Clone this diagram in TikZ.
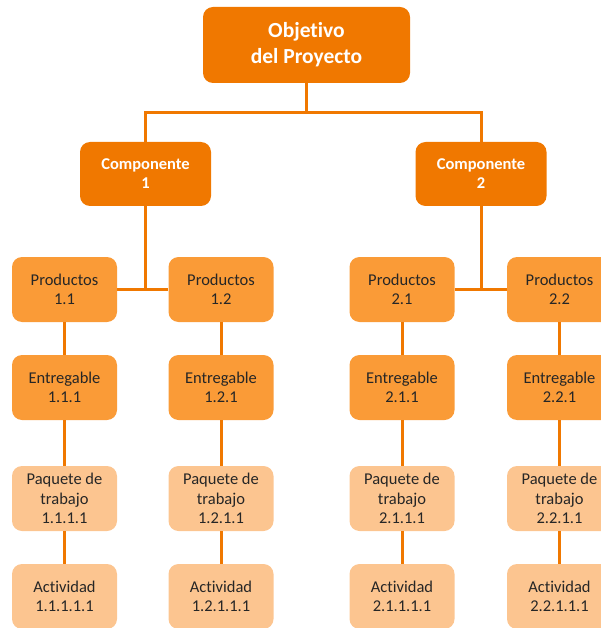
\documentclass[tikz,border=0pt]{standalone}
\usepackage{fontspec}
\setmainfont[Ligatures=NoCommon]{Carlito}
\definecolor{darkorg}{RGB}{240,120,0}
\definecolor{midorg}{RGB}{250,155,55}
\definecolor{lightorg}{RGB}{252,197,144}
\definecolor{txtgray}{RGB}{38,38,38}
\begin{document}
\begin{tikzpicture}[x=1pt,y=-1pt,
  box/.style={rectangle,rounded corners=10pt,inner sep=0pt,align=center,
    minimum width=105pt,minimum height=65pt,font=\fontsize{16.5}{19.4}\selectfont,text=txtgray},
  topbox/.style={box,fill=darkorg,text=white,minimum width=207pt,minimum height=76pt,
    font=\fontsize{21.5}{26}\selectfont\bfseries},
  compbox/.style={box,fill=darkorg,text=white,minimum width=131pt,minimum height=64pt,
    font=\fontsize{16.5}{19}\selectfont\bfseries},
  prodbox/.style={box,fill=midorg},
  workbox/.style={box,fill=lightorg},
  link/.style={draw=darkorg,line width=3pt}]
\useasboundingbox (0,0) rectangle (601,628);
\clip (0,0) rectangle (601,628);

% root and components
\node[topbox] (top) at (306.5,45) {Objetivo\\del Proyecto};
\node[compbox] (c1) at (145.5,174) {Componente\\1};
\node[compbox] (c2) at (481,174) {Componente\\2};

% products
\node[prodbox] (p11) at (64.5,289.5) {Productos\\1.1};
\node[prodbox] (p12) at (221,289.5) {Productos\\1.2};
\node[prodbox] (p21) at (402,289.5) {Productos\\2.1};
\node[prodbox] (p22) at (559.5,289.5) {Productos\\2.2};

% deliverables
\node[prodbox] (e11) at (64.5,387.5) {Entregable\\1.1.1};
\node[prodbox] (e12) at (221,387.5) {Entregable\\1.2.1};
\node[prodbox] (e21) at (402,387.5) {Entregable\\2.1.1};
\node[prodbox] (e22) at (559.5,387.5) {Entregable\\2.2.1};

% work packages
\node[workbox] (w11) at (64.5,498.5) {Paquete de\\trabajo\\1.1.1.1};
\node[workbox] (w12) at (221,498.5) {Paquete de\\trabajo\\1.2.1.1};
\node[workbox] (w21) at (402,498.5) {Paquete de\\trabajo\\2.1.1.1};
\node[workbox] (w22) at (559.5,498.5) {Paquete de\\trabajo\\2.2.1.1};

% activities
\node[workbox] (a11) at (64.5,596.5) {Actividad\\1.1.1.1.1};
\node[workbox] (a12) at (221,596.5) {Actividad\\1.2.1.1.1};
\node[workbox] (a21) at (402,596.5) {Actividad\\2.1.1.1.1};
\node[workbox] (a22) at (559.5,596.5) {Actividad\\2.2.1.1.1};

% connectors
\draw[link] (top.south) -- ++(0,29.5) coordinate (j0);
\draw[link] (j0) -| (c1.north);
\draw[link] (j0) -| (c2.north);

\draw[link] (c1.south) -- (c1.south |- p11.east);
\draw[link] (p11.east) -- (p12.west);
\draw[link] (c2.south) -- (c2.south |- p21.east);
\draw[link] (p21.east) -- (p22.west);

\foreach \k in {11,12,21,22}{
  \draw[link] (p\k.south) -- (e\k.north);
  \draw[link] (e\k.south) -- (w\k.north);
  \draw[link] (w\k.south) -- (a\k.north);
}
\end{tikzpicture}
\end{document}
